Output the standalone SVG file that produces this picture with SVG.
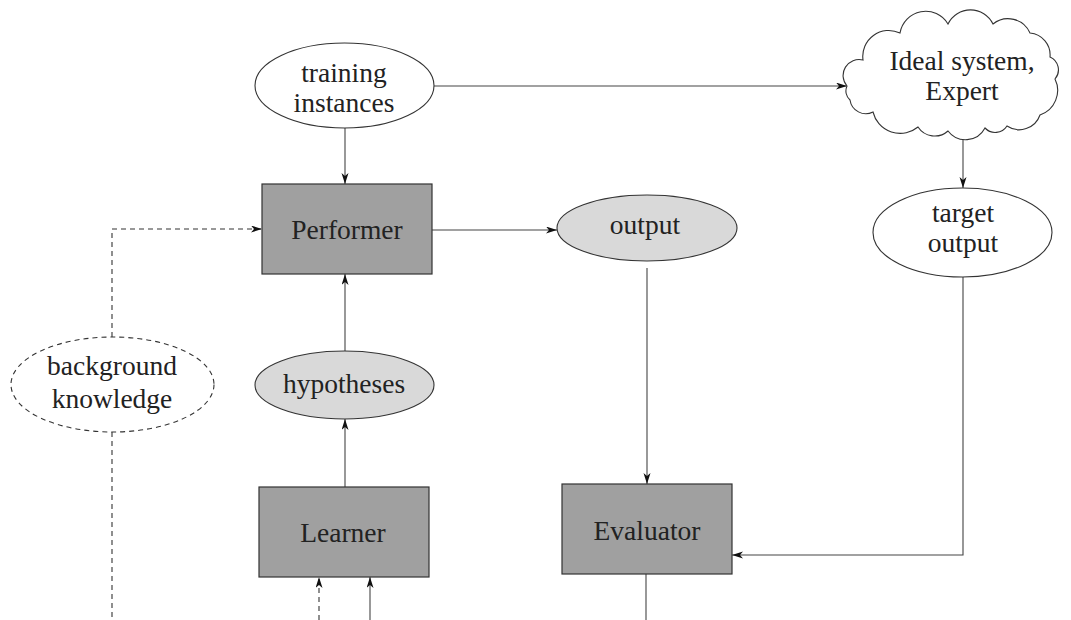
<svg xmlns="http://www.w3.org/2000/svg" width="1071" height="620" viewBox="0 0 1071 620">
<style>
text{font-family:"Liberation Serif","Times New Roman",serif;font-size:27.5px;fill:#222;text-anchor:middle}
.box{fill:#a0a0a0;stroke:#333;stroke-width:1.2}
.ell{fill:#fff;stroke:#333;stroke-width:1.1}
.gry{fill:#d9d9d9;stroke:#333;stroke-width:1.1}
.dsh{fill:#fff;stroke:#333;stroke-width:1.1;stroke-dasharray:5,4}
.c{fill:none;stroke:#444;stroke-width:1.1}
.cd{fill:none;stroke:#333;stroke-width:1.1;stroke-dasharray:5,4}
</style>
<defs>
<marker id="ah" markerWidth="12" markerHeight="8" refX="11" refY="3.5" orient="auto" markerUnits="userSpaceOnUse">
<path d="M0,0 L11,3.5 L0,7 L3,3.5 z" fill="#111"/>
</marker>
</defs>
<rect width="1071" height="620" fill="#fff"/>
<g id="connectors">
<line class="c" x1="345" y1="128" x2="345" y2="184" marker-end="url(#ah)"/>
<line class="c" x1="434" y1="86" x2="847" y2="86" marker-end="url(#ah)"/>
<line class="c" x1="963" y1="140" x2="963" y2="188" marker-end="url(#ah)"/>
<line class="c" x1="432" y1="230" x2="557" y2="230" marker-end="url(#ah)"/>
<line class="c" x1="647" y1="268" x2="647" y2="484" marker-end="url(#ah)"/>
<polyline class="c" points="963,277 963,555 732,555" marker-end="url(#ah)"/>
<line class="c" x1="646" y1="574" x2="646" y2="620"/>
<line class="c" x1="345" y1="487" x2="345" y2="419" marker-end="url(#ah)"/>
<line class="c" x1="345" y1="351" x2="345" y2="274" marker-end="url(#ah)"/>
<line class="cd" x1="319" y1="620" x2="319" y2="577" marker-end="url(#ah)"/>
<line class="c" x1="370" y1="620" x2="370" y2="577" marker-end="url(#ah)"/>
<polyline class="cd" points="112,337 112,229 262,229" marker-end="url(#ah)"/>
<line class="cd" x1="112" y1="432" x2="112" y2="620"/>
</g>
<g id="training">
<ellipse class="ell" cx="344.5" cy="85.5" rx="89.5" ry="42.5"/>
<text x="344" y="82">training</text>
<text x="344" y="112">instances</text>
</g>
<g id="ideal">
<path class="ell" d="M847,86 A16,16 0 0 1 863,60 A26,26 0 0 1 900,33 A26,26 0 0 1 948,24 A25,25 0 0 1 993,24 A24,24 0 0 1 1030,33 A22,22 0 0 1 1050,57 A14,14 0 0 1 1055,79 A26,26 0 0 1 1040,115 A22,22 0 0 1 1007,126 A14,14 0 0 1 985,128 A22,22 0 0 1 948,131 A20,20 0 0 1 918,127 A28,28 0 0 1 873,112 A16,16 0 0 1 850,100 A12,12 0 0 1 847,86 Z"/>
<text x="962" y="70">Ideal system,</text>
<text x="962" y="100">Expert</text>
</g>
<g id="target">
<ellipse class="ell" cx="962.5" cy="232.5" rx="89.5" ry="44.5"/>
<text x="963" y="222">target</text>
<text x="963" y="252">output</text>
</g>
<g id="performer">
<rect class="box" x="262" y="184" width="170" height="90"/>
<text x="347" y="239">Performer</text>
</g>
<g id="output">
<ellipse class="gry" cx="647" cy="228" rx="90" ry="33"/>
<text x="645" y="234">output</text>
</g>
<g id="background">
<ellipse class="dsh" cx="112.5" cy="384.5" rx="101.5" ry="47.5"/>
<text x="112" y="375">background</text>
<text x="112" y="408">knowledge</text>
</g>
<g id="hypotheses">
<ellipse class="gry" cx="344.5" cy="385" rx="89.5" ry="34"/>
<text x="344" y="393">hypotheses</text>
</g>
<g id="learner">
<rect class="box" x="259" y="487" width="170" height="90"/>
<text x="343" y="542">Learner</text>
</g>
<g id="evaluator">
<rect class="box" x="562" y="484" width="170" height="90"/>
<text x="647" y="540">Evaluator</text>
</g>
</svg>
